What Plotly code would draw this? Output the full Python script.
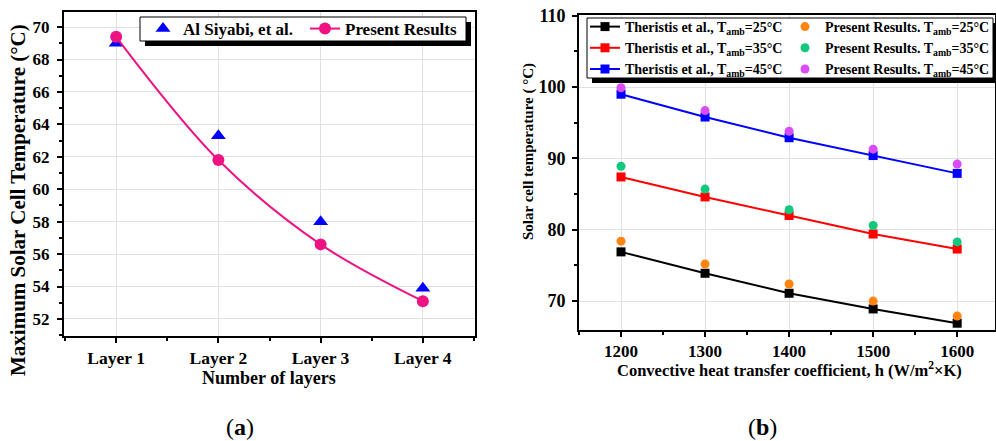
import plotly.graph_objects as go

W, H = 996, 441

# ---------------- data ----------------
layers = ["Layer 1", "Layer 2", "Layer 3", "Layer 4"]
layer_idx = [1, 2, 3, 4]
al_siyabi = [69.0, 63.3, 58.0, 53.9]
present_a = [69.4, 61.8, 56.6, 53.1]

h_coef = [1200, 1300, 1400, 1500, 1600]
theristis_25 = [76.9, 73.9, 71.1, 68.9, 66.9]
theristis_35 = [87.4, 84.6, 82.0, 79.4, 77.3]
theristis_45 = [99.0, 95.8, 92.9, 90.4, 87.9]
present_25 = [78.4, 75.2, 72.4, 70.0, 67.9]
present_35 = [88.9, 85.7, 82.8, 80.6, 78.3]
present_45 = [99.9, 96.7, 93.8, 91.3, 89.2]

SERIF = "Liberation Serif"

def px(x):
    return x / W

def py(y):
    return 1 - y / H

fig = go.Figure()

# ---------- panel (a) ----------
fig.add_trace(go.Scatter(
    x=layer_idx, y=al_siyabi, mode="markers", name="Al Siyabi, et al.",
    marker=dict(symbol="triangle-up", size=13, color="#0000FF"),
    xaxis="x", yaxis="y", legend="legend"))
fig.add_trace(go.Scatter(
    x=layer_idx, y=present_a, mode="lines+markers", name="Present Results",
    line=dict(color="#EE1283", width=2, shape="spline"),
    marker=dict(symbol="circle", size=12, color="#EE1283"),
    xaxis="x", yaxis="y", legend="legend"))

# ---------- panel (b) ----------
series_b = [
    ("Theristis et al., T<sub>amb</sub>=25°C", theristis_25, "#000000", "lines+markers"),
    ("Theristis et al., T<sub>amb</sub>=35°C", theristis_35, "#FF0000", "lines+markers"),
    ("Theristis et al., T<sub>amb</sub>=45°C", theristis_45, "#0000FF", "lines+markers"),
    ("Present Results. T<sub>amb</sub>=25°C", present_25, "#FF8410", "markers"),
    ("Present Results. T<sub>amb</sub>=35°C", present_35, "#12C77E", "markers"),
    ("Present Results. T<sub>amb</sub>=45°C", present_45, "#D84DF5", "markers"),
]
for name, vals, col, mode in series_b:
    if mode == "lines+markers":
        fig.add_trace(go.Scatter(
            x=h_coef, y=vals, mode=mode, name=name,
            line=dict(color=col, width=2),
            marker=dict(symbol="square", size=9, color=col),
            xaxis="x2", yaxis="y2", legend="legend2"))
    else:
        fig.add_trace(go.Scatter(
            x=h_coef, y=vals, mode=mode, name=name,
            marker=dict(symbol="circle", size=9, color=col),
            xaxis="x2", yaxis="y2", legend="legend3"))

def tf(size):
    return dict(family=SERIF, size=size, color="black", weight="bold")

axis_common = dict(
    showline=True, linecolor="black", linewidth=2, mirror=True,
    ticks="outside", ticklen=5, tickwidth=1.5, tickcolor="black",
    showgrid=True, gridcolor="#E0E0E0", gridwidth=1, zeroline=False,
    automargin=False,
)

leg_common = dict(
    xanchor="left", yanchor="top", bgcolor="rgba(0,0,0,0)", borderwidth=0,
    itemsizing="trace",
)

fig.update_layout(
    width=W, height=H, margin=dict(l=0, r=0, t=0, b=0, autoexpand=False),
    paper_bgcolor="white", plot_bgcolor="white",
    font=dict(family=SERIF, color="black"),
    xaxis=dict(
        axis_common, domain=[px(64), px(475)], range=[0.49, 4.51],
        tickvals=layer_idx, ticktext=layers, anchor="y", tickfont=tf(17.5),
        minor=dict(tickvals=[0.5, 1.5, 2.5, 3.5, 4.5], ticklen=3, ticks="outside", tickcolor="black", showgrid=False),
        ticklabelstandoff=0,
    ),
    yaxis=dict(
        axis_common, domain=[py(336), py(12)], range=[50.95, 70.93],
        dtick=2, anchor="x", tickfont=tf(17),
        minor=dict(dtick=1, ticklen=3, ticks="outside", tickcolor="black", showgrid=False),
        ticklabelstandoff=4,
    ),
    xaxis2=dict(
        axis_common, domain=[px(579), px(995)], range=[1150, 1645],
        dtick=100, anchor="y2", tickfont=tf(17),
        minor=dict(dtick=50, ticklen=3, ticks="outside", tickcolor="black", showgrid=False),
        ticklabelstandoff=0,
    ),
    yaxis2=dict(
        axis_common, domain=[py(330), py(15)], range=[65.95, 110.1],
        tickvals=[70, 80, 90, 100, 110], anchor="x2", tickfont=tf(18),
        minor=dict(tickvals=[75, 85, 95, 105], ticklen=3, ticks="outside", tickcolor="black", showgrid=False),
        ticklabelstandoff=3,
    ),
    legend=dict(
        leg_common, orientation="h", x=px(143), y=py(11),
        font=tf(17), entrywidth=117,
    ),
    legend2=dict(
        leg_common, orientation="v", x=px(585), y=py(11),
        font=tf(14), tracegroupgap=0,
    ),
    legend3=dict(
        leg_common, orientation="v", x=px(785), y=py(11),
        font=tf(14), tracegroupgap=0,
    ),
    showlegend=True,
)

# legend boxes with drop shadows
for (x0, y0, x1, y1) in [(140, 17, 466, 41), (587, 18, 993, 78)]:
    fig.add_shape(type="rect", xref="paper", yref="paper",
                  x0=px(x0 + 5), x1=px(x1 + 5), y0=py(y1 + 5), y1=py(y0 + 5),
                  fillcolor="black", line=dict(width=0), layer="above")
    fig.add_shape(type="rect", xref="paper", yref="paper",
                  x0=px(x0), x1=px(x1), y0=py(y1), y1=py(y0),
                  fillcolor="white", line=dict(width=1, color="black"), layer="above")

annotations = [
    dict(text="Maximum Solar Cell Temperature (°C)", x=px(18), y=py(200), textangle=-90, font=tf(21)),
    dict(text="Number of layers", x=px(269), y=py(378), font=tf(18)),
    dict(text="Solar cell temperature ( °C)", x=px(528), y=py(152), textangle=-90, font=tf(15)),
    dict(text="Convective heat transfer coefficient, h (W/m<sup>2</sup>×K)", x=px(789), y=py(369),
         font=tf(16.5)),
    dict(text="(<b>a</b>)", x=px(240), y=py(427), font=dict(family=SERIF, size=24, color="black")),
    dict(text="(<b>b</b>)", x=px(762), y=py(427), font=dict(family=SERIF, size=24, color="black")),
]
for a in annotations:
    a.update(xref="paper", yref="paper", showarrow=False, xanchor="center", yanchor="middle")
    fig.add_annotation(**a)

fig.write_html("out.html", config={"displayModeBar": False},
               post_script="document.body.style.margin='0px';document.body.style.overflow='hidden';")
